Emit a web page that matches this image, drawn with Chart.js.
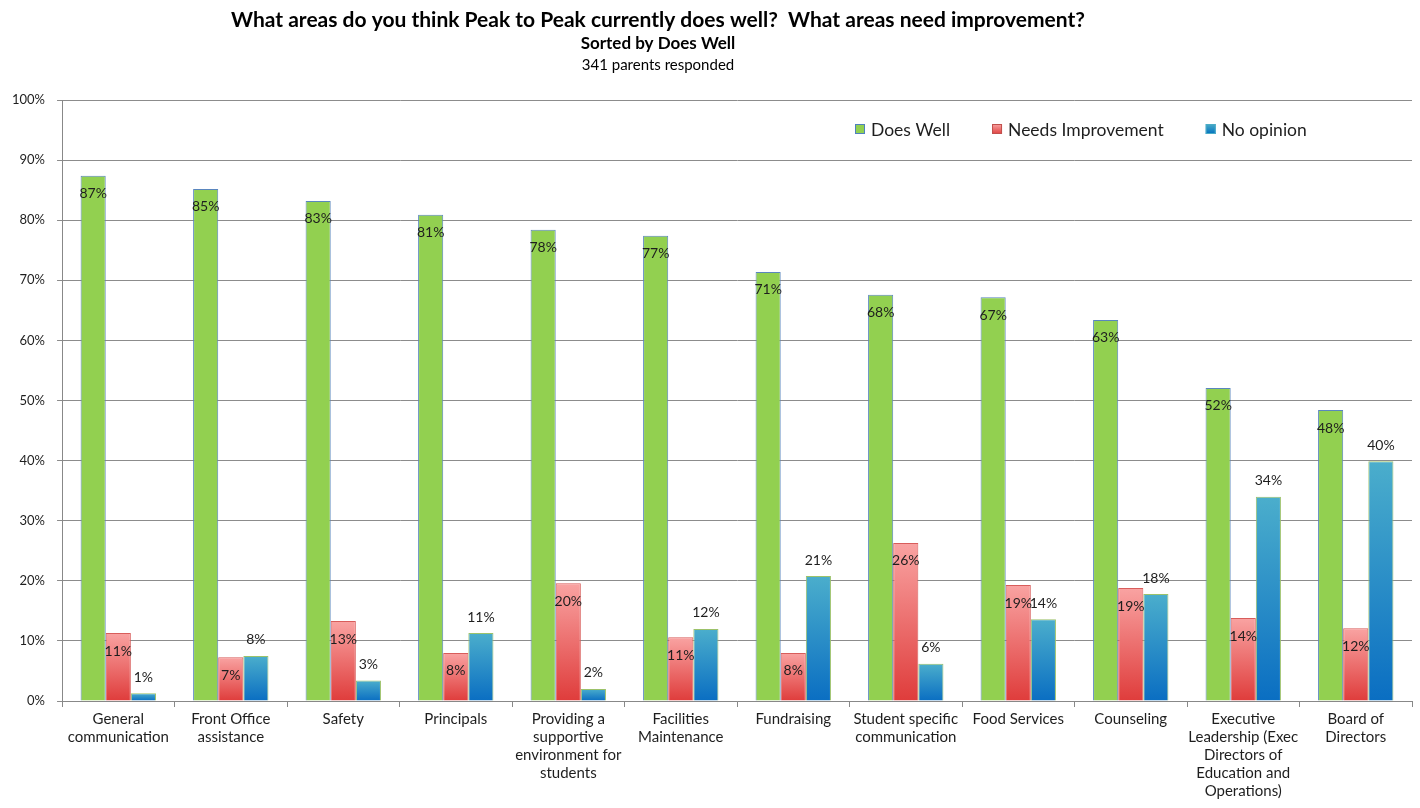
<!DOCTYPE html>
<html>
<head>
<meta charset="utf-8">
<script src="https://cdn.jsdelivr.net/npm/chart.js@4/dist/chart.umd.min.js"></script>
<style>
html,body{margin:0;padding:0;background:#fff;}
#wrap{width:1420px;height:808px;position:relative;}
</style>
</head>
<body>
<div id="wrap"><canvas id="c" width="1420" height="808"></canvas></div>
<script>
const titleText = "What areas do you think Peak to Peak currently does well?  What areas need improvement?";
const subtitleText = "Sorted by Does Well";
const noteText = "341 parents responded";

const categories = [
  ["General","communication"],
  ["Front Office","assistance"],
  ["Safety"],
  ["Principals"],
  ["Providing a","supportive","environment for","students"],
  ["Facilities","Maintenance"],
  ["Fundraising"],
  ["Student specific","communication"],
  ["Food Services"],
  ["Counseling"],
  ["Executive","Leadership (Exec","Directors of","Education and","Operations)"],
  ["Board of","Directors"]
];
const seriesNames = ["Does Well","Needs Improvement","No opinion"];
const doesWell = [87.4, 85.2, 83.2, 80.9, 78.4, 77.4, 71.4, 67.6, 67.2, 63.4, 52.1, 48.4];
const needsImprovement = [11.3, 7.3, 13.3, 8.0, 19.6, 10.6, 8.0, 26.3, 19.3, 18.8, 13.8, 12.1];
const noOpinion = [1.3, 7.5, 3.4, 11.3, 2.0, 12.0, 20.8, 6.2, 13.6, 17.8, 34.0, 39.9];
const yTicks = [0,10,20,30,40,50,60,70,80,90,100];

const FONT = "Lato, 'Open Sans', sans-serif";

function vGrad(ctx, top, bottom, c1, c2){
  const g = ctx.createLinearGradient(0, top, 0, bottom);
  g.addColorStop(0, c1);
  g.addColorStop(1, c2);
  return g;
}
function barGradient(c1, c2, fallback){
  return function(context){
    const chart = context.chart;
    if (!chart.chartArea || context.type !== 'data') return fallback;
    const y = chart.scales.y;
    const v = context.raw;
    const top = y.getPixelForValue(v);
    const bottom = y.getPixelForValue(0);
    if (!(bottom > top)) return fallback;
    return vGrad(chart.ctx, top, bottom, c1, c2);
  };
}

const labelPlugin = {
  id: 'barLabels',
  afterDatasetsDraw(chart){
    const ctx = chart.ctx;
    ctx.save();
    ctx.font = "14px " + FONT;
    ctx.fillStyle = "#1e1e1e";
    ctx.textAlign = "center";
    ctx.textBaseline = "middle";
    chart.data.datasets.forEach((ds, di) => {
      const meta = chart.getDatasetMeta(di);
      meta.data.forEach((bar, i) => {
        const txt = Math.round(ds.data[i]) + "%";
        const yy = di === 2 ? bar.y - 16 : bar.y + 18;
        ctx.fillText(txt, bar.x, yy);
      });
    });
    ctx.restore();
  }
};

const headerPlugin = {
  id: 'header',
  afterDraw(chart){
    const ctx = chart.ctx;
    ctx.save();
    ctx.fillStyle = "#000";
    ctx.textAlign = "center";
    ctx.textBaseline = "middle";
    const cx = 658;
    ctx.font = "bold 21px " + FONT;
    ctx.fillText(titleText, cx, 20);
    ctx.font = "bold 17px " + FONT;
    ctx.fillText(subtitleText, cx, 44);
    ctx.font = "15px " + FONT;
    ctx.fillText(noteText, cx, 65);
    ctx.restore();
  }
};

const legendPlugin = {
  id: 'customLegend',
  afterDraw(chart){
    const ctx = chart.ctx;
    ctx.save();
    ctx.font = "17.5px " + FONT;
    ctx.textBaseline = "middle";
    ctx.textAlign = "left";
    const cy = 129;
    let x = 855;
    const swatches = [
      ["#92D050","#92D050","#4F81BD"],
      ["#F9A3A2","#E0403F","#C0504D"],
      ["#4BACC6","#0070C0","#4BACC6"]
    ];
    chart.data.datasets.forEach((ds, di) => {
      const s = swatches[di];
      ctx.fillStyle = vGrad(ctx, cy-5, cy+5, s[0], s[1]);
      ctx.fillRect(x, cy-5, 10, 10);
      ctx.strokeStyle = s[2];
      ctx.lineWidth = 1;
      ctx.strokeRect(x+0.5, cy-4.5, 9, 9);
      ctx.fillStyle = "#1e1e1e";
      ctx.fillText(ds.label, x + 16, cy + 1);
      x += 16 + ctx.measureText(ds.label).width + 42;
    });
    ctx.restore();
  }
};

new Chart(document.getElementById('c'), {
  type: 'bar',
  data: {
    labels: categories,
    datasets: [
      { label: seriesNames[0], data: doesWell,
        backgroundColor: "#92D050", borderColor: "#5A86BE", borderWidth: 1 },
      { label: seriesNames[1], data: needsImprovement,
        backgroundColor: barGradient("#F9A3A2", "#DF3C3B", "#EE7070"), borderColor: "#D85D5B", borderWidth: 1 },
      { label: seriesNames[2], data: noOpinion,
        backgroundColor: barGradient("#4BAECC", "#0A6EC2", "#2E8FC6"), borderColor: "#9CC26A", borderWidth: 1 }
    ]
  },
  options: {
    responsive: false,
    animation: false,
    devicePixelRatio: 1,
    layout: { padding: { top: 100, left: 0, right: 8, bottom: 5 } },
    datasets: { bar: { categoryPercentage: 0.67, barPercentage: 1.0 } },
    plugins: {
      legend: { display: false },
      title: { display: false },
      tooltip: { enabled: false }
    },
    scales: {
      x: {
        grid: { offset: true, drawOnChartArea: false, drawTicks: true, tickLength: 6, color: "#888" },
        border: { display: true, color: "#888", width: 1 },
        ticks: { color: "#1e1e1e", font: { family: FONT, size: 15, lineHeight: 1.2 }, padding: 3, maxRotation: 0, autoSkip: false }
      },
      y: {
        min: 0, max: 100,
        afterBuildTicks(axis){ axis.ticks = yTicks.map(v => ({ value: v })); },
        grid: { color: "#8c8c8c", tickLength: 5, lineWidth: 1 },
        border: { display: true, color: "#888", width: 1 },
        ticks: { color: "#1e1e1e", font: { family: FONT, size: 13 }, padding: 12, callback: v => v + "%" }
      }
    }
  },
  plugins: [labelPlugin, headerPlugin, legendPlugin]
});
</script>
</body>
</html>
